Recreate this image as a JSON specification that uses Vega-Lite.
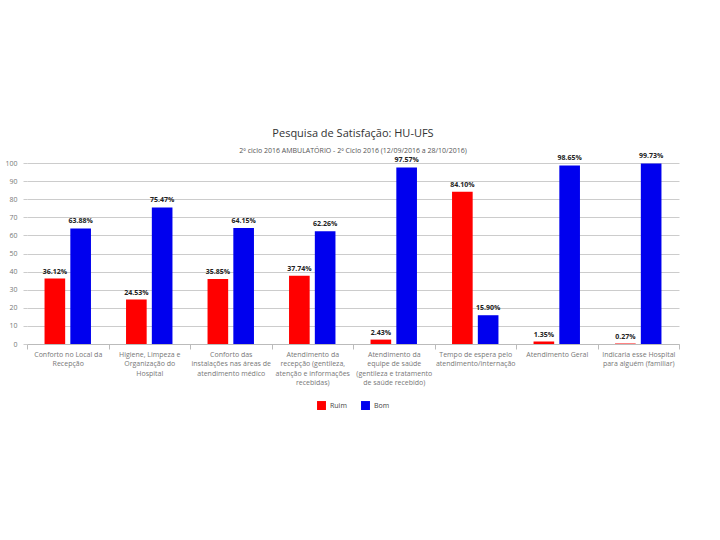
{
  "$schema": "https://vega.github.io/schema/vega-lite/v6.json",
  "autosize": {"type": "fit", "contains": "padding"},
  "width": 720,
  "height": 540,
  "padding": {"left": 4, "top": 129, "right": 40, "bottom": 130},
  "background": "white",
  "title": {
    "text": "Pesquisa de Satisfação: HU-UFS",
    "subtitle": "2º ciclo 2016 AMBULATÓRIO - 2º Ciclo 2016 (12/09/2016 a 28/10/2016)",
    "font": "Open Sans",
    "fontSize": 11,
    "fontWeight": "normal",
    "color": "#333333",
    "subtitleFont": "Open Sans",
    "subtitleFontSize": 7,
    "subtitleColor": "#555555",
    "subtitlePadding": 8,
    "offset": -2,
    "anchor": "middle"
  },
  "data": {
    "values": [
      {"cat": "Conforto no Local da|Recepção", "serie": "Ruim", "value": 36.12},
      {"cat": "Conforto no Local da|Recepção", "serie": "Bom", "value": 63.88},
      {"cat": "Higiene, Limpeza e|Organização do|Hospital", "serie": "Ruim", "value": 24.53},
      {"cat": "Higiene, Limpeza e|Organização do|Hospital", "serie": "Bom", "value": 75.47},
      {"cat": "Conforto das|instalações nas áreas de|atendimento médico", "serie": "Ruim", "value": 35.85},
      {"cat": "Conforto das|instalações nas áreas de|atendimento médico", "serie": "Bom", "value": 64.15},
      {"cat": "Atendimento da|recepção (gentileza,|atenção e informações|recebidas)", "serie": "Ruim", "value": 37.74},
      {"cat": "Atendimento da|recepção (gentileza,|atenção e informações|recebidas)", "serie": "Bom", "value": 62.26},
      {"cat": "Atendimento da|equipe de saúde|(gentileza e tratamento|de saúde recebido)", "serie": "Ruim", "value": 2.43},
      {"cat": "Atendimento da|equipe de saúde|(gentileza e tratamento|de saúde recebido)", "serie": "Bom", "value": 97.57},
      {"cat": "Tempo de espera pelo|atendimento/internação", "serie": "Ruim", "value": 84.10},
      {"cat": "Tempo de espera pelo|atendimento/internação", "serie": "Bom", "value": 15.90},
      {"cat": "Atendimento Geral", "serie": "Ruim", "value": 1.35},
      {"cat": "Atendimento Geral", "serie": "Bom", "value": 98.65},
      {"cat": "Indicaria esse Hospital|para alguém (familiar)", "serie": "Ruim", "value": 0.27},
      {"cat": "Indicaria esse Hospital|para alguém (familiar)", "serie": "Bom", "value": 99.73}
    ]
  },
  "transform": [
    {"calculate": "format(datum.value, '.2f') + '%'", "as": "label"}
  ],
  "encoding": {
    "x": {
      "field": "cat",
      "type": "nominal",
      "sort": null,
      "scale": {"paddingInner": 0, "paddingOuter": 0},
      "axis": {
        "title": null,
        "labelAngle": 0,
        "labelExpr": "split(datum.label, '|')",
        "labelFont": "Open Sans",
        "labelFontSize": 7,
        "labelColor": "#777777",
        "labelLineHeight": 9.5,
        "labelPadding": 1,
        "labelLimit": 0,
        "domainColor": "#bbbbbb",
        "tickColor": "#bbbbbb",
        "tickBand": "extent",
        "tickSize": 5,
        "grid": false
      }
    },
    "xOffset": {
      "field": "serie",
      "type": "nominal",
      "sort": ["Ruim", "Bom"],
      "scale": {"paddingInner": 0.2, "paddingOuter": 0.68}
    },
    "y": {
      "field": "value",
      "type": "quantitative",
      "scale": {"domain": [0, 100], "nice": false},
      "axis": {
        "title": null,
        "values": [0, 10, 20, 30, 40, 50, 60, 70, 80, 90, 100],
        "labelFont": "Open Sans",
        "labelFontSize": 7,
        "labelColor": "#777777",
        "labelPadding": 6,
        "domain": false,
        "tickColor": "#cccccc",
        "tickSize": 4,
        "gridColor": "#cccccc"
      }
    }
  },
  "layer": [
    {
      "mark": {"type": "bar"},
      "encoding": {
        "color": {
          "field": "serie",
          "type": "nominal",
          "sort": ["Ruim", "Bom"],
          "scale": {"domain": ["Ruim", "Bom"], "range": ["#ff0000", "#0000ee"]},
          "legend": {
            "title": null,
            "orient": "bottom",
            "direction": "horizontal",
            "symbolType": "square",
            "symbolSize": 80,
            "symbolStrokeWidth": 0,
            "labelFont": "Open Sans",
            "labelFontSize": 7,
            "labelColor": "#444444",
            "columnPadding": 14,
            "offset": 15
          }
        }
      }
    },
    {
      "mark": {"type": "text", "dy": -4, "baseline": "bottom", "font": "Open Sans", "fontSize": 7, "fontWeight": "bold", "color": "#222222"},
      "encoding": {
        "text": {"field": "label", "type": "nominal"}
      }
    }
  ],
  "config": {
    "view": {"stroke": null},
    "legend": {"layout": {"bottom": {"anchor": "middle"}}}
  }
}
